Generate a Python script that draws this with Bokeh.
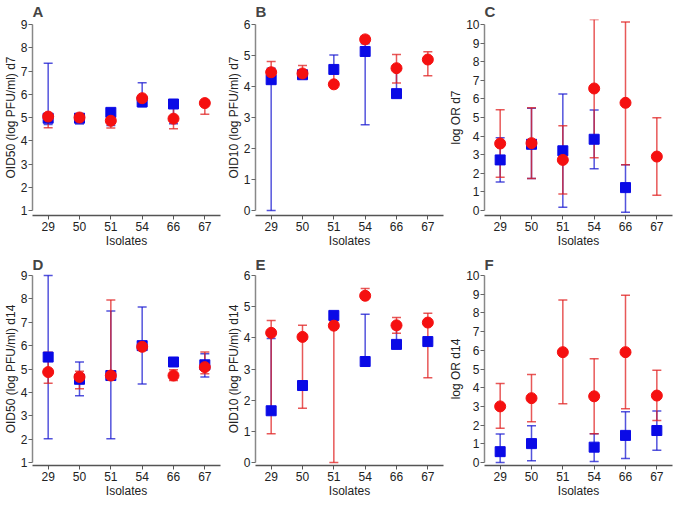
from bokeh.plotting import figure
from bokeh.layouts import column, row
from bokeh.models import ColumnDataSource, Whisker, TeeHead, FactorRange, Range1d, FixedTicker
from bokeh.embed import file_html
from bokeh.resources import INLINE

isolates = ["29", "50", "51", "54", "66", "67"]
x_label = "Isolates"

# Panel A: OID50 d7
a_label = "OID50 (log PFU/ml) d7"
a_ticks = [1, 2, 3, 4, 5, 6, 7, 8, 9]
a_blue_val = [4.97, 4.97, 5.22, 5.67, 5.58, None]
a_blue_lo = [4.70, 4.72, 4.66, 5.46, 4.73, None]
a_blue_hi = [7.33, 5.00, 5.22, 6.50, 5.58, None]
a_red_val = [5.04, 5.00, 4.86, 5.83, 4.95, 5.62]
a_red_lo = [4.56, 4.80, 4.55, 5.55, 4.52, 5.14]
a_red_hi = [5.10, 5.10, 4.86, 5.90, 5.45, 5.62]

# Panel B: OID10 d7
b_label = "OID10 (log PFU/ml) d7"
b_ticks = [0, 1, 2, 3, 4, 5, 6]
b_blue_val = [4.22, 4.38, 4.55, 5.13, 3.77, None]
b_blue_lo = [0.00, 4.33, 4.55, 2.77, 3.77, None]
b_blue_hi = [4.59, 4.40, 5.02, 5.38, 4.55, None]
b_red_val = [4.46, 4.42, 4.07, 5.52, 4.59, 4.87]
b_red_lo = [4.46, 4.42, 4.07, 5.52, 4.11, 4.35]
b_red_hi = [4.81, 4.68, 4.45, 5.63, 5.03, 5.12]

# Panel C: log OR d7
c_label = "log OR d7"
c_ticks = [0, 1, 2, 3, 4, 5, 6, 7, 8, 9, 10]
c_blue_val = [2.72, 3.56, 3.21, 3.83, 1.23, None]
c_blue_lo = [1.53, 1.72, 0.17, 2.25, -0.09, None]
c_blue_hi = [3.91, 5.50, 6.27, 5.40, 2.46, None]
c_red_val = [3.60, 3.62, 2.72, 6.56, 5.79, 2.90]
c_red_lo = [1.79, 1.72, 0.89, 2.84, 2.46, 0.82]
c_red_hi = [5.42, 5.52, 4.56, 10.27, 10.13, 4.98]

# Panel D: OID50 d14
d_label = "OID50 (log PFU/ml) d14"
d_ticks = [1, 2, 3, 4, 5, 6, 7, 8, 9]
d_blue_val = [5.51, 4.56, 4.72, 6.00, 5.30, 5.18]
d_blue_lo = [2.02, 3.86, 2.02, 4.36, 5.30, 4.66]
d_blue_hi = [9.00, 5.30, 7.48, 7.65, 5.30, 5.65]
d_red_val = [4.87, 4.66, 4.72, 5.95, 4.72, 5.08]
d_red_lo = [4.39, 4.16, 4.72, 5.95, 4.51, 4.80]
d_red_hi = [5.72, 4.90, 7.95, 5.95, 4.97, 5.73]

# Panel E: OID10 d14
e_label = "OID10 (log PFU/ml) d14"
e_ticks = [0, 1, 2, 3, 4, 5, 6]
e_blue_val = [1.66, 2.47, 4.72, 3.24, 3.79, 3.88]
e_blue_lo = [1.66, 2.47, 4.72, 3.24, 3.79, 3.88]
e_blue_hi = [3.98, 2.47, 4.72, 4.76, 4.30, 3.88]
e_red_val = [4.16, 4.03, 4.39, 5.35, 4.40, 4.49]
e_red_lo = [0.92, 1.74, 0.00, 5.35, 4.15, 2.72]
e_red_hi = [4.56, 4.40, 4.53, 5.58, 4.65, 4.79]

# Panel F: log OR d14
f_label = "log OR d14"
f_ticks = [0, 1, 2, 3, 4, 5, 6, 7, 8, 9, 10]
f_blue_val = [0.58, 1.01, None, 0.82, 1.45, 1.71]
f_blue_lo = [0.00, 0.09, None, 0.05, 0.21, 0.66]
f_blue_hi = [1.52, 1.97, None, 1.54, 2.71, 2.76]
f_red_val = [3.00, 3.44, 5.90, 3.54, 5.90, 3.58]
f_red_lo = [1.83, 2.18, 3.14, 1.54, 2.88, 2.25]
f_red_hi = [4.22, 4.71, 8.69, 5.55, 8.94, 4.93]

BLUE = "#0a0ae6"
RED = "#f51010"
BLUE_BAR = "#1a1ad0"
RED_BAR = "#e02020"
FONT = "Liberation Sans"


def make_src(vals, los, his):
    xs, v, lo, hi = [], [], [], []
    for c, a, b, h in zip(isolates, vals, los, his):
        if a is None:
            continue
        xs.append(c); v.append(a); lo.append(b); hi.append(h)
    return ColumnDataSource(dict(x=xs, v=v, lo=lo, hi=hi))


def add_bars(p, src, color):
    kw = dict(line_color=color, line_alpha=0.75, line_width=1.5)
    w = Whisker(source=src, base="x", upper="hi", lower="lo", dimension="height",
                level="underlay",
                upper_head=TeeHead(size=9, **kw),
                lower_head=TeeHead(size=9, **kw), **kw)
    p.add_layout(w)


def panel(letter, ylabel, ticks, bv, bl, bh, rv, rl, rh, frame_h, pad, top, right):
    lo, hi = ticks[0], ticks[-1]
    upp = (hi - lo) / (frame_h - 2 * pad)
    p = figure(x_range=FactorRange(*isolates),
               y_range=Range1d(lo - pad * upp, hi + pad * upp),
               frame_width=188, frame_height=frame_h,
               output_backend="svg", toolbar_location=None,
               min_border_left=0, min_border_right=right, min_border_top=top, min_border_bottom=0,
               title=letter)
    p.title.text_font = FONT
    p.title.text_font_size = "15px"
    p.title.text_font_style = "bold"
    p.title.align = "left"
    p.title.standoff = 0
    p.outline_line_color = None
    p.grid.visible = False
    p.background_fill_color = "white"

    bsrc = make_src(bv, bl, bh)
    rsrc = make_src(rv, rl, rh)
    add_bars(p, bsrc, BLUE_BAR)
    add_bars(p, rsrc, RED_BAR)
    p.scatter(x="x", y="v", source=bsrc, marker="square", size=10,
              fill_color=BLUE, line_color=BLUE)
    p.scatter(x="x", y="v", source=rsrc, marker="circle", size=11,
              fill_color=RED, line_color=RED)

    p.yaxis.ticker = FixedTicker(ticks=ticks)
    p.yaxis.bounds = (lo, hi)
    p.yaxis.axis_label = ylabel
    p.xaxis.axis_label = x_label
    for ax in (p.xaxis[0], p.yaxis[0]):
        ax.axis_label_text_font = FONT
        ax.axis_label_text_font_size = "12px"
        ax.axis_label_text_font_style = "normal"
        ax.axis_label_text_color = "#222222"
        ax.major_label_text_font = FONT
        ax.major_label_text_font_size = "12px"
        ax.major_label_text_color = "#222222"
        ax.major_tick_in = 0
        ax.major_tick_out = 4
        ax.minor_tick_in = 0
        ax.minor_tick_out = 0
    p.yaxis.axis_label_standoff = 0
    p.yaxis.major_label_standoff = 1
    p.xaxis.axis_label_standoff = 0
    p.xaxis.major_label_standoff = 2
    p.yaxis.axis_line_color = "#888888"
    p.yaxis.axis_line_width = 1.5
    p.yaxis.major_tick_line_color = "#666666"
    p.xaxis.axis_line_color = "#555555"
    p.xaxis.axis_line_width = 1.5
    p.xaxis.major_tick_line_color = "#555555"
    return p


pa = panel("A", a_label, a_ticks, a_blue_val, a_blue_lo, a_blue_hi, a_red_val, a_red_lo, a_red_hi, 196, 5, 0, 3)
pb = panel("B", b_label, b_ticks, b_blue_val, b_blue_lo, b_blue_hi, b_red_val, b_red_lo, b_red_hi, 196, 5, 0, 3)
pc = panel("C", c_label, c_ticks, c_blue_val, c_blue_lo, c_blue_hi, c_red_val, c_red_lo, c_red_hi, 196, 5, 0, 2)
pd = panel("D", d_label, d_ticks, d_blue_val, d_blue_lo, d_blue_hi, d_red_val, d_red_lo, d_red_hi, 193, 3, 22, 3)
pe = panel("E", e_label, e_ticks, e_blue_val, e_blue_lo, e_blue_hi, e_red_val, e_red_lo, e_red_hi, 193, 3, 22, 3)
pf = panel("F", f_label, f_ticks, f_blue_val, f_blue_lo, f_blue_hi, f_red_val, f_red_lo, f_red_hi, 193, 3, 22, 2)

layout = column(row(pa, pb, pc, spacing=0), row(pd, pe, pf, spacing=0), spacing=0)
open("out.html", "w").write(file_html(layout, INLINE))
